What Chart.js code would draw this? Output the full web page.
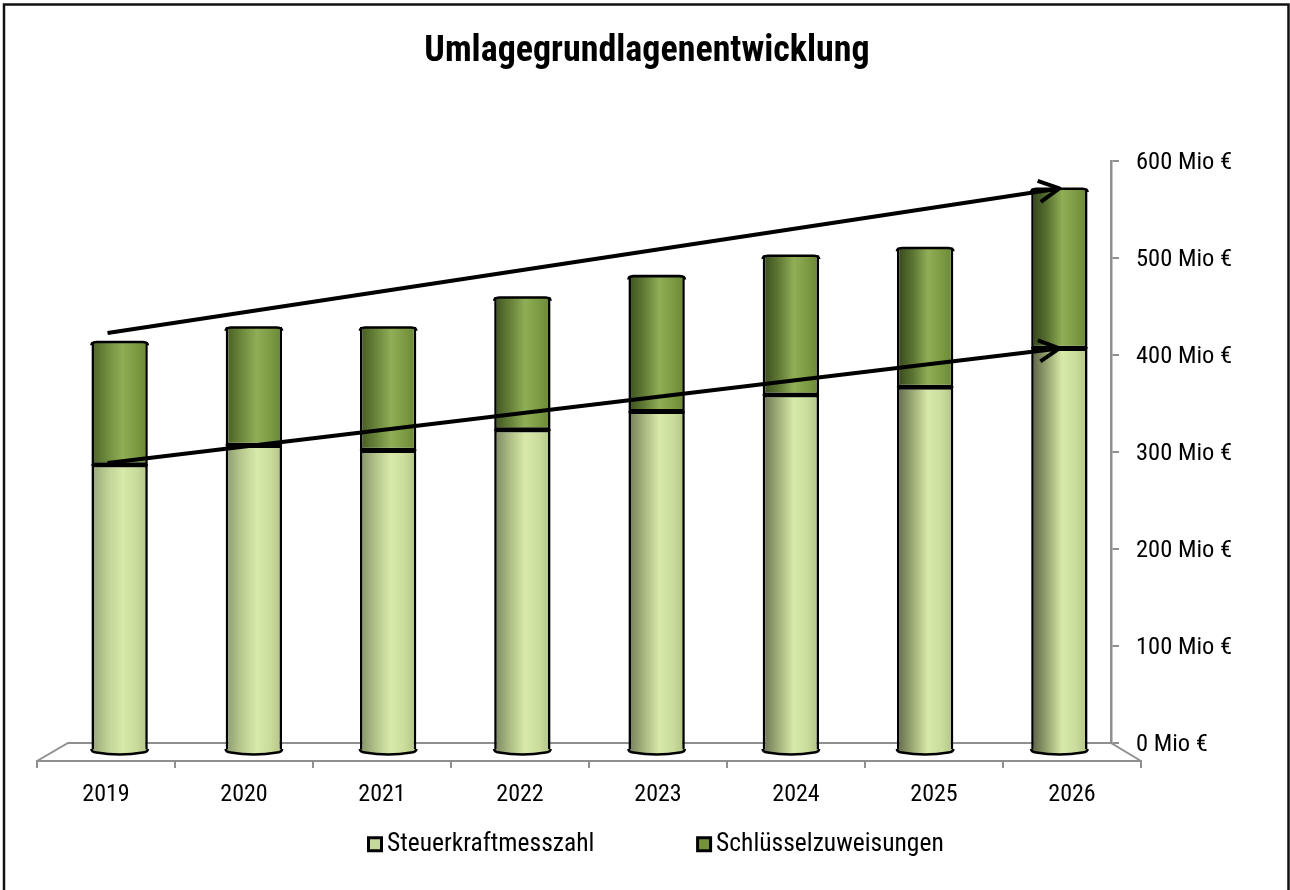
<!DOCTYPE html>
<html lang="de"><head><meta charset="utf-8">
<style>html,body{margin:0;padding:0;background:#fff}#w{width:1290px;height:890px}</style>
<script src="https://cdn.jsdelivr.net/npm/chart.js@4/dist/chart.umd.js"></script>
</head><body><div id="w"><canvas id="c" width="1290" height="890"></canvas></div>
<script>
const categories = ['2019','2020','2021','2022','2023','2024','2025','2026'];
const steuerkraftmesszahl = [295,315,310,331,350,367,375,415];
const schluesselzuweisungen = [127,122,127,137,140,144,144,165];
const seriesNames = ['Steuerkraftmesszahl','Schlüsselzuweisungen'];
const chartTitle = 'Umlagegrundlagenentwicklung';
const unit = ' Mio €';
// trend arrows: [category index, value] start and end
const trendUpper = [[-0.09,431],[7.0,580]];
const trendLower = [[-0.09,297],[7.0,415]];

const FONT = '"Liberation Sans Narrow","Roboto Condensed","Liberation Sans",sans-serif';
const frame = {wallLeft:68, wallRight:1111, wallTop:161, wallBottom:743,
  floorLeft:37, floorRight:1141, floorY:761, barsLeft:52.5, barsRight:1126.5, barsBottom:751};
const AXIS = '#8f8f8f';
const legendFill = ['#c5d99a','#76933c'];
const legendFont = 25.5, legendKey = 1, legendShift = 11.5, legendGap = 108;

function place(s,l,r,t,b){ if(l!=null){s.left=l;s.right=r;s.width=r-l;} if(t!=null){s.top=t;s.bottom=b;s.height=b-t;} s.configure(); }

const geometry = {id:'geometry',
  afterLayout(c){
    const f=frame, S=c.scales;
    place(S.x,f.floorLeft,f.floorRight,f.floorY,f.floorY+60);
    place(S.xBars,f.barsLeft,f.barsRight,null,null);
    place(S.y,f.wallRight,f.wallRight+120,f.wallTop,f.wallBottom);
    place(S.yBars,null,null,f.wallTop+f.barsBottom-f.wallBottom,f.barsBottom);
    c.legend.left+=legendShift; c.legend.right+=legendShift;
  },
  beforeDraw(c){
    const g=c.ctx; g.save();
    g.strokeStyle='#111'; g.lineWidth=2.5;
    g.beginPath(); g.moveTo(4,890); g.lineTo(4,4.5); g.lineTo(1288.5,4.5); g.lineTo(1288.5,890); g.stroke();
    g.restore();
  },
  beforeDatasetsDraw(c){
    const g=c.ctx,f=frame; g.save();
    g.strokeStyle=AXIS; g.lineWidth=2;
    g.beginPath(); g.moveTo(f.floorLeft,f.floorY); g.lineTo(f.wallLeft,f.wallBottom); g.lineTo(f.wallRight,f.wallBottom); g.lineTo(f.floorRight,f.floorY); g.stroke();
    g.restore();
  },
  afterDatasetsDraw(c){
    const g=c.ctx; g.save();
    g.strokeStyle='#000';
    c.getDatasetMeta(0).data.forEach((b,i)=>{
      const w=b.width/2, y=b.base;
      g.lineWidth=2.6;
      g.beginPath(); g.moveTo(b.x-w,y-2); g.quadraticCurveTo(b.x-w,y+1,b.x-w+5,y+1.5);
      g.quadraticCurveTo(b.x,y+5.5,b.x+w-5,y+1.5); g.quadraticCurveTo(b.x+w,y+1,b.x+w,y-2);
      g.fillStyle=shade(c,0,i); g.fill(); g.stroke();
      g.lineWidth=2;
      const ry=Math.round(b.y);
      g.beginPath(); g.moveTo(b.x-w,ry); g.lineTo(b.x+w,ry); g.stroke();
    });
    g.lineWidth=2.6;
    c.getDatasetMeta(1).data.forEach(b=>{
      const w=b.width/2, y=b.y+0.7;
      g.beginPath(); g.moveTo(b.x-w,y+3); g.quadraticCurveTo(b.x-w,y,b.x-w+5,y-0.3);
      g.lineTo(b.x+w-5,y-0.3); g.quadraticCurveTo(b.x+w,y,b.x+w,y+3);
      g.stroke();
    });
    [trendUpper,trendLower].forEach(t=>{
      const px=p=>[c.scales.xBars.getPixelForValue(p[0]),c.scales.yBars.getPixelForValue(p[1])];
      const [x0,y0]=px(t[0]),[x1,y1]=px(t[1]),a=Math.atan2(y1-y0,x1-x0),L=23,sp=0.48;
      g.strokeStyle='#000'; g.lineWidth=4; g.lineCap='butt'; g.lineJoin='round';
      g.beginPath(); g.moveTo(x0,y0); g.lineTo(x1,y1);
      g.moveTo(x1-L*Math.cos(a-sp),y1-L*Math.sin(a-sp)); g.lineTo(x1,y1); g.lineTo(x1-L*Math.cos(a+sp),y1-L*Math.sin(a+sp));
      g.stroke();
    });
    g.restore();
  },
  afterDraw(c){
    const g=c.ctx, L=c.legend; g.save();
    L.legendHitBoxes.forEach((h,i)=>{
      const textX=h.left+legendKey+legendFont/2, cy=L.top+legendGap+h.height/2;
      g.fillStyle=legendFill[i]; g.strokeStyle='#000'; g.lineWidth=3;
      g.beginPath(); g.rect(textX-18.5,cy-6.5,13,13); g.fill(); g.stroke();
    });
    g.restore();
  }
};
function mix(a,b,t){return 'rgb('+a.map((v,i)=>Math.round(v+(b[i]-v)*t)).join(',')+')';}
function shade(c,ds,i){
  const s=c.scales.xBars,x=s.getPixelForValue(i),w=28,t=i/7;
  const g=c.ctx.createLinearGradient(x-w,0,x+w,0);
  if(ds===0){
    g.addColorStop(0,mix([150,165,118],[88,95,68],t));
    g.addColorStop(0.28,mix([190,208,148],[150,165,112],t));
    g.addColorStop(0.55,'#d8eaa9');
    g.addColorStop(0.8,'#c9dc9b');
    g.addColorStop(1,'#b2c487');
  }else{
    g.addColorStop(0,mix([74,98,36],[50,66,26],t));
    g.addColorStop(0.28,mix([112,140,62],[88,112,48],t));
    g.addColorStop(0.55,'#8fae56');
    g.addColorStop(0.8,'#7b9a42');
    g.addColorStop(1,'#6b8836');
  }
  return g;
}
new Chart(document.getElementById('c'),{
  type:'bar',
  plugins:[geometry],
  data:{labels:categories,datasets:[
    {label:seriesNames[0],data:steuerkraftmesszahl,xAxisID:'xBars',yAxisID:'yBars',stack:'s',clip:false,
     backgroundColor:x=>shade(x.chart,0,x.dataIndex),borderColor:'#000',borderWidth:2.6,borderSkipped:'bottom',barPercentage:0.42,categoryPercentage:1},
    {label:seriesNames[1],data:schluesselzuweisungen,xAxisID:'xBars',yAxisID:'yBars',stack:'s',clip:false,
     backgroundColor:x=>shade(x.chart,1,x.dataIndex),borderColor:'#000',borderWidth:2.6,borderSkipped:'top',barPercentage:0.42,categoryPercentage:1}
  ]},
  options:{responsive:false,animation:false,
    layout:{padding:{top:0,bottom:23,left:4}},
    plugins:{
      title:{display:true,text:chartTitle,color:'#000',font:{family:FONT,size:36,weight:'bold'},padding:{top:30,bottom:16}},
      legend:{position:'bottom',
        labels:{color:'#000',font:{family:FONT,size:legendFont},boxWidth:legendKey,boxHeight:13,padding:legendGap,
          generateLabels:()=>seriesNames.map((n,i)=>({text:n,fillStyle:'rgba(0,0,0,0)',strokeStyle:'rgba(0,0,0,0)',lineWidth:0,datasetIndex:i}))}},
      tooltip:{enabled:false}
    },
    scales:{
      x:{type:'category',position:'bottom',offset:true,
        grid:{display:true,offset:true,drawOnChartArea:false,drawTicks:true,tickLength:7,color:AXIS,lineWidth:2},
        border:{display:true,color:AXIS,width:2},
        ticks:{color:'#000',font:{family:FONT,size:24},padding:13,maxRotation:0,autoSkip:false}},
      xBars:{type:'category',display:false,offset:true,stacked:true},
      y:{type:'linear',position:'right',min:0,max:600,
        grid:{display:true,drawOnChartArea:false,drawTicks:true,tickLength:8,color:AXIS,lineWidth:2},
        border:{display:true,color:AXIS,width:2.5},
        ticks:{stepSize:100,color:'#000',font:{family:FONT,size:24.5},padding:17,labelOffset:2,callback:v=>v+unit}},
      yBars:{type:'linear',display:false,min:0,max:600,stacked:true}
    }
  }
});
</script></body></html>
